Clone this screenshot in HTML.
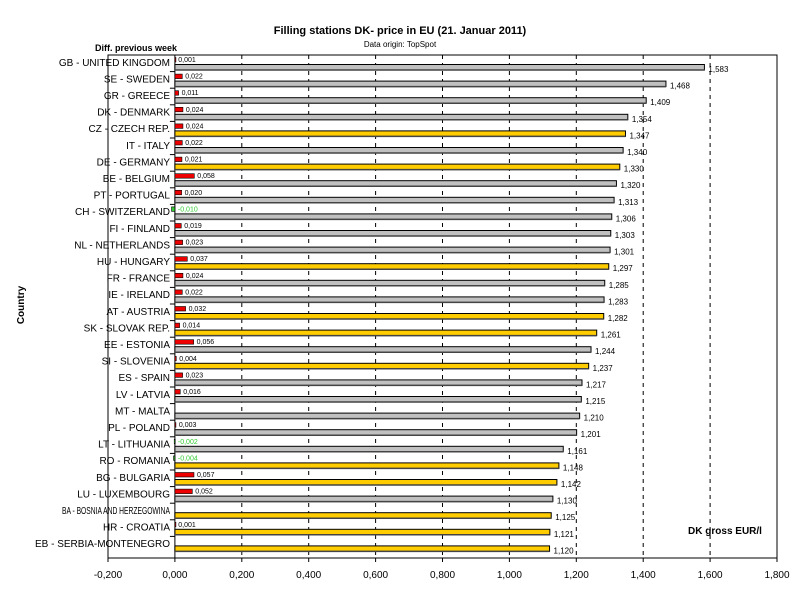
<!DOCTYPE html>
<html><head><meta charset="utf-8"><style>
body{margin:0;background:#fff;}
svg{display:block;font-family:"Liberation Sans",Arial,sans-serif;}
</style></head><body>
<svg id="chart" width="800" height="600" viewBox="0 0 800 600">
<text x="400" y="34" text-anchor="middle" font-size="11" font-weight="bold">Filling stations DK- price in EU (21. Januar 2011)</text>
<text x="400" y="47" text-anchor="middle" font-size="8">Data origin: TopSpot</text>
<text x="95" y="51" font-size="9" font-weight="bold">Diff. previous week</text>
<text x="24" y="305" font-size="10" font-weight="bold" transform="rotate(-90 24 305)" text-anchor="middle">Country</text>
<text x="725" y="534" text-anchor="middle" font-size="10" font-weight="bold">DK gross EUR/l</text>
<g id="plot"></g>
</svg>
<script>
const countries=["GB - UNITED KINGDOM","SE - SWEDEN","GR - GREECE","DK - DENMARK","CZ - CZECH REP.","IT - ITALY","DE - GERMANY","BE - BELGIUM","PT - PORTUGAL","CH - SWITZERLAND","FI - FINLAND","NL - NETHERLANDS","HU - HUNGARY","FR - FRANCE","IE - IRELAND","AT - AUSTRIA","SK - SLOVAK REP.","EE - ESTONIA","SI - SLOVENIA","ES - SPAIN","LV - LATVIA","MT - MALTA","PL - POLAND","LT - LITHUANIA","RO - ROMANIA","BG - BULGARIA","LU - LUXEMBOURG","BA - BOSNIA AND HERZEGOWINA","HR - CROATIA","EB - SERBIA-MONTENEGRO"];
const prices=[1.583,1.468,1.409,1.354,1.347,1.340,1.330,1.320,1.313,1.306,1.303,1.301,1.297,1.285,1.283,1.282,1.261,1.244,1.237,1.217,1.215,1.210,1.201,1.161,1.148,1.142,1.130,1.125,1.121,1.120];
const diffs=[0.001,0.022,0.011,0.024,0.024,0.022,0.021,0.058,0.020,-0.010,0.019,0.023,0.037,0.024,0.022,0.032,0.014,0.056,0.004,0.023,0.016,null,0.003,-0.002,-0.004,0.057,0.052,null,0.001,null];
const highlighted=[0,0,0,0,1,0,1,0,0,0,0,0,1,0,0,1,1,0,1,0,0,0,0,0,1,1,0,1,1,1];
const xTicks=[-0.2,0,0.2,0.4,0.6,0.8,1.0,1.2,1.4,1.6,1.8];
const NS="http://www.w3.org/2000/svg";
const L=108,R=777,T=55,B=558,X0=-0.2,X1=1.8;
const x=v=>L+(v-X0)/(X1-X0)*(R-L);
const rowH=16.6;
const y=i=>T+i*rowH;
const fmt=v=>v.toFixed(3).replace('.',',');
const g=document.getElementById('plot');
function mk(tag,attrs,parent){const e=document.createElementNS(NS,tag);for(const k in attrs)e.setAttribute(k,attrs[k]);(parent||g).appendChild(e);return e;}
let e=mk('rect',{x:L,y:T,width:R-L,height:B-T,fill:'none',stroke:'#000','stroke-width':1});


xTicks.forEach(t=>{
  if(t>0&&t<1.8){
    const ln=mk('line',{x1:x(t),x2:x(t),y1:T,y2:B,stroke:'#000','stroke-dasharray':'4,4','stroke-width':1});
    
    
  }
  const lb=mk('text',{x:x(t),y:B+20,'text-anchor':'middle','font-size':10});
  lb.textContent=(t<0?'-':'')+Math.abs(t).toFixed(3).replace('.',',');
  
  
  const tk=mk('line',{x1:x(t),x2:x(t),y1:B,y2:B+4,stroke:'#000'});
  
  
});
e=mk('line',{x1:x(0),x2:x(0),y1:T,y2:B,stroke:'#000','stroke-width':1});


countries.forEach((c,i)=>{
  const top=y(i);
  const tk=mk('line',{x1:x(0)-5,x2:x(0),y1:top,y2:top,stroke:'#000'});
  
  
  const la={x:170,y:top+10.8,'text-anchor':'end','font-size':10};
  if(c.length>24){la.textLength=108;la.lengthAdjust='spacingAndGlyphs';}
  const lb=mk('text',la);
  lb.textContent=c;
  
  
  const p=prices[i];
  const bar=mk('rect',{x:x(0),y:top+9.5,width:x(p)-x(0),height:5.5,fill:highlighted[i]?'#ffcc00':'#c0c0c0',stroke:'#000','stroke-width':1});
  
  
  const sh=mk('line',{x1:x(0),x2:x(p),y1:top+15,y2:top+15,stroke:'#444','stroke-width':1.5});
  
  
  const pl=mk('text',{x:x(p)+4,y:top+17,'font-size':8});
  pl.textContent=fmt(p);
  
  
  const d=diffs[i];
  if(d!==null){
    const neg=d<0;
    const x1=Math.min(x(0),x(d)),w=Math.max(1,Math.abs(x(d)-x(0)));
    const db=mk('rect',{x:x1,y:top+2.5,width:w,height:4.5,fill:neg?'#33cc33':'#ee0000',stroke:'#000','stroke-width':0.6});
    
    
    const dl=mk('text',{x:x(Math.max(d,0))+3,y:top+7,'font-size':7,fill:neg?'#33cc33':'#000'});
    dl.textContent=(neg?'-':'')+fmt(Math.abs(d));
    
    
  }
});
</script>
</body></html>
